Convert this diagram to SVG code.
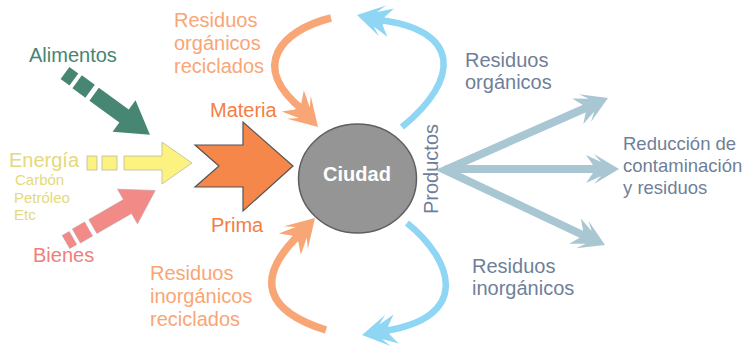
<svg xmlns="http://www.w3.org/2000/svg" width="755" height="347" viewBox="0 0 755 347">
<defs>
<style>
text{font-family:"Liberation Sans",Arial,sans-serif}
.t20{font-size:20px}
.sm{font-size:15px}
.green{fill:#468571}
.yel{fill:#E4D97C}
.red{fill:#F07E7B}
.org{fill:#F47E3F}
.lorg{fill:#F9A676}
.gb{fill:#6F7F99}
.curveO{fill:none;stroke:#F9A676;stroke-width:7.5}
.curveB{fill:none;stroke:#8ED6F4;stroke-width:6.5}
.ray{fill:none;stroke:#A9C6D3;stroke-width:8}
</style>
<path id="head" d="M0,0 L-25,-15 L-18,-7 L-33,-14 L-26,-4 L-26,4 L-33,14 L-18,7 L-25,15 Z"/>
</defs>
<rect width="755" height="347" fill="#ffffff"/>

<g id="connectors">
<path class="curveO" d="M331,18 C282,30 248,66 303,110"/>
<use href="#head" fill="#F9A676" transform="translate(318,127) rotate(46) scale(1.1)"/>
<path class="curveO" d="M326,330 C268,312 252,280 300,234"/>
<use href="#head" fill="#F9A676" transform="translate(315,218) rotate(-46) scale(1.1)"/>
<path class="curveB" d="M402,127 C460,80 462,30 379,20"/>
<use href="#head" fill="#8ED6F4" transform="translate(357,15) rotate(193) scale(1.05)"/>
<path class="curveB" d="M407,223 C455,262 470,318 384,331"/>
<use href="#head" fill="#8ED6F4" transform="translate(362,335) rotate(170) scale(1.05)"/>
<path class="ray" stroke-linejoin="miter" d="M588,107 L445,170 L585,236"/>
<path class="ray" d="M445,169 L597,169"/>
<use href="#head" fill="#A9C6D3" transform="translate(608,98) rotate(-23.6)"/>
<use href="#head" fill="#A9C6D3" transform="translate(619,169)"/>
<use href="#head" fill="#A9C6D3" transform="translate(605,245) rotate(24.8)"/>
</g>

<g id="alimentos">
<g transform="translate(65,73) rotate(36)" fill="#478672">
<rect x="0" y="-7.5" width="11" height="15"/>
<rect x="15" y="-8" width="16" height="16"/>
<path d="M36,-8 L73,-8 L73,-19.5 L105,0 L73,19.5 L73,8 L36,8 Z"/>
</g>
<text class="t20 green" x="29" y="62">Alimentos</text>
</g>

<g id="energia">
<g fill="#FBF27F" stroke="#BDB9A0" stroke-width="0.8">
<rect x="87" y="156" width="10" height="14"/>
<rect x="102" y="156" width="15" height="14"/>
<path d="M124,156 L162,156 L162,142 L192,163 L162,184 L162,170 L124,170 Z"/>
</g>
<text class="t20 yel" x="9" y="167">Energía</text>
<text class="sm yel" x="15" y="185">Carbón</text>
<text class="sm yel" x="14" y="203">Petróleo</text>
<text class="sm yel" x="14" y="220">Etc</text>
</g>

<g id="bienes">
<g transform="translate(66,242) rotate(-30)" fill="#F28A88" stroke="#C9A0A0" stroke-width="0.6">
<rect x="0" y="-7.5" width="8" height="15"/>
<rect x="12" y="-8" width="14" height="16"/>
<path d="M31,-8 L71,-8 L71,-20 L103,0 L71,20 L71,8 L31,8 Z"/>
</g>
<text class="t20 red" x="33" y="262">Bienes</text>
</g>

<g id="materia-prima">
<path d="M195,145 L243,145 L243,122 L293,166 L243,211 L243,187 L195,187 L219,166 Z" fill="#F5874A" stroke="#555" stroke-width="1.2"/>
<text class="t20 org" x="210" y="117">Materia</text>
<text class="t20 org" x="211" y="232">Prima</text>
</g>

<g id="ciudad">
<ellipse cx="357.5" cy="178.5" rx="59" ry="54.5" fill="#959595" stroke="#5f5f5f" stroke-width="1.5"/>
<text x="357" y="181" text-anchor="middle" fill="#ffffff" font-weight="bold" font-size="20">Ciudad</text>
</g>

<g id="residuos-organicos-reciclados">
<text class="t20 lorg" x="174" y="27">Residuos</text>
<text class="t20 lorg" x="174" y="50">orgánicos</text>
<text class="t20 lorg" x="174" y="73">reciclados</text>
</g>

<g id="residuos-inorganicos-reciclados">
<text class="t20 lorg" x="150" y="280">Residuos</text>
<text class="t20 lorg" x="150" y="303">inorgánicos</text>
<text class="t20 lorg" x="150" y="326">reciclados</text>
</g>

<g id="productos">
<text class="t20 gb" transform="translate(438,169) rotate(-90)" text-anchor="middle">Productos</text>
</g>

<g id="residuos-organicos">
<text class="t20 gb" x="465" y="67">Residuos</text>
<text class="t20 gb" x="465" y="89">orgánicos</text>
</g>

<g id="residuos-inorganicos">
<text class="t20 gb" x="472" y="273">Residuos</text>
<text class="t20 gb" x="472" y="295">inorgánicos</text>
</g>

<g id="reduccion">
<text class="gb" font-size="18.5" x="623" y="150">Reducción de</text>
<text class="gb" font-size="18.5" x="623" y="172">contaminación</text>
<text class="gb" font-size="18.5" x="623" y="194">y residuos</text>
</g>
</svg>
